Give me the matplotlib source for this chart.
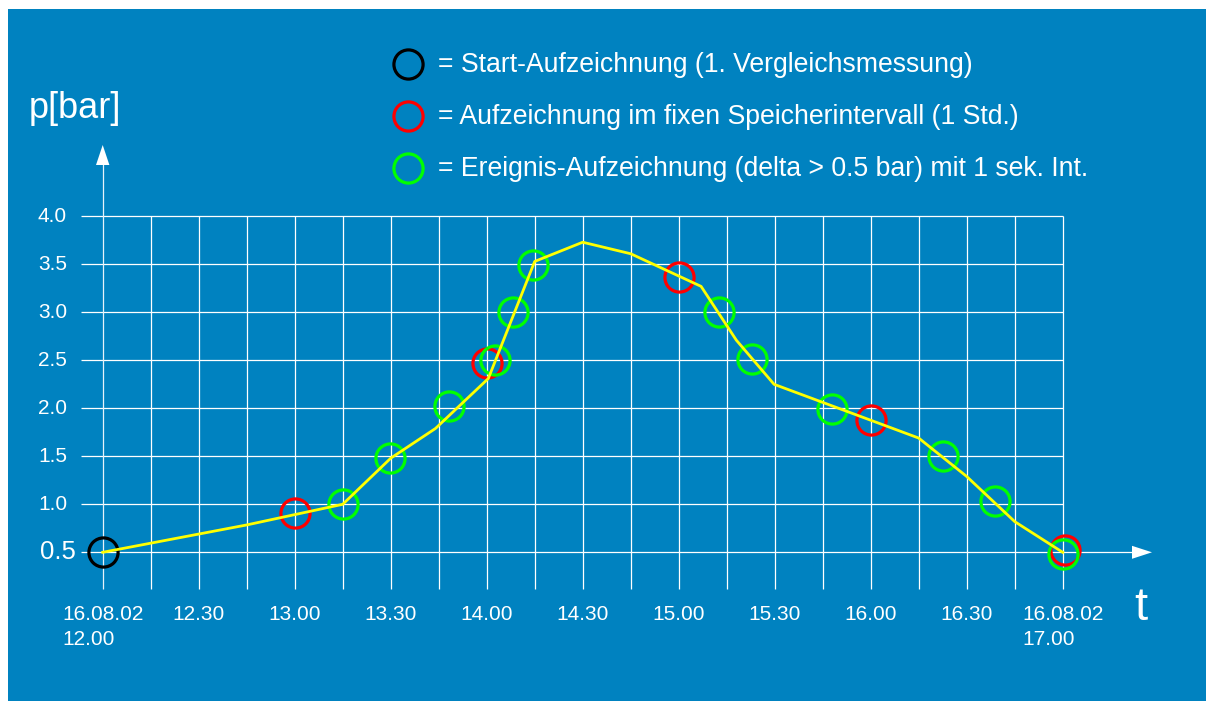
import matplotlib
matplotlib.use("Agg")
import matplotlib.pyplot as plt
from matplotlib.patches import Rectangle, Polygon

# ---------------- data ----------------
line_minutes = [0, 45, 75, 90, 104, 120.5, 135, 150, 165, 187, 198, 209.8, 255, 270, 285, 300]
line_pressure = [0.5, 0.785, 1.0, 1.48, 1.79, 2.31, 3.53, 3.73, 3.61, 3.27, 2.71, 2.25, 1.69, 1.29, 0.82, 0.5]

start_minutes = [0]
start_pressure = [0.5]

interval_minutes = [60, 120, 180, 240, 300.7]
interval_pressure = [0.91, 2.475, 3.37, 1.88, 0.52]

event_minutes = [75, 89.7, 108.3, 122.6, 128.3, 134.5, 192.5, 202.9, 227.9, 262.7, 278.8, 300]
event_pressure = [1.0, 1.48, 2.02, 2.5, 3.0, 3.49, 3.0, 2.51, 1.99, 1.5, 1.03, 0.48]

grid_minutes = list(range(0, 301, 15))
y_tick_values = [0.5, 1.0, 1.5, 2.0, 2.5, 3.0, 3.5, 4.0]
y_tick_labels = ["0.5", "1.0", "1.5", "2.0", "2.5", "3.0", "3.5", "4.0"]
x_tick_minutes = [0, 30, 60, 90, 120, 150, 180, 210, 240, 270, 300]
x_tick_labels = ["16.08.02\n12.00", "12.30", "13.00", "13.30", "14.00", "14.30",
                 "15.00", "15.30", "16.00", "16.30", "16.08.02\n17.00"]

legend_labels = ["= Start-Aufzeichnung (1. Vergleichsmessung)",
                 "= Aufzeichnung im fixen Speicherintervall (1 Std.)",
                 "= Ereignis-Aufzeichnung (delta > 0.5 bar) mit 1 sek. Int."]

# ---------------- style ----------------
BLUE = "#0082C0"
YELLOW = "#FFFF00"
RED = "#FF0000"
GREEN = "#00FF00"
BLACK = "#000000"
legend_colors = [BLACK, RED, GREEN]

W, H = 1206, 701
plt.rcParams["font.family"] = ["Liberation Sans", "DejaVu Sans"]

# pixel -> data helpers (layout only)
X0, PX_MIN = 102.7, 3.2
Y0, PX_BAR = 552.3, 96.0
def t_of(x):
    return (x - X0) / PX_MIN
def p_of(y):
    return 0.5 + (Y0 - y) / PX_BAR

fig = plt.figure(figsize=(W / 100, H / 100), dpi=100)
fig.patch.set_facecolor("white")
bg = Rectangle((8 / W, 0), 1 - 8 / W, 1 - 9 / H, transform=fig.transFigure,
               facecolor=BLUE, edgecolor="none", zorder=-10)
fig.patches.append(bg)

ax = fig.add_axes([0, 0, 1, 1], zorder=1)
ax.set_facecolor("none")
ax.axis("off")
ax.set_xlim(t_of(0), t_of(W))
ax.set_ylim(p_of(H), p_of(0))

grid_kw = dict(color="white", lw=0.9, zorder=1)
p_bottom = p_of(589)
t_left = t_of(81)

# vertical grid lines
ax.vlines(grid_minutes[1:], p_bottom, 4.0, **grid_kw)
# horizontal grid lines
ax.hlines(y_tick_values[1:], t_left, 300, **grid_kw)
# axes with arrows
ax.hlines(0.5, t_left, t_of(1133), **grid_kw)
ax.vlines(0, p_bottom, p_of(164), color="#E6F2FA", lw=0.9, zorder=1)
ax.add_patch(Polygon([(t_of(1132), 0.5 + 6.5 / PX_BAR), (t_of(1152), 0.5), (t_of(1132), 0.5 - 6.5 / PX_BAR)],
                     closed=True, facecolor="white", edgecolor="none", zorder=2))
ax.add_patch(Polygon([(-6.7 / PX_MIN, p_of(165)), (0, p_of(145)), (6.7 / PX_MIN, p_of(165))],
                     closed=True, facecolor="white", edgecolor="none", zorder=2))

# markers
mk = dict(linestyle="none", marker="o", markerfacecolor="none", markersize=21, markeredgewidth=2.3)
ax.plot(start_minutes, start_pressure, markeredgecolor=BLACK, zorder=3, **mk)
ax.plot(interval_minutes, interval_pressure, markeredgecolor=RED, zorder=3, **mk)
ax.plot(event_minutes, event_pressure, markeredgecolor=GREEN, zorder=4, **mk)

# pressure curve
ax.plot(line_minutes, line_pressure, color=YELLOW, lw=2.0, zorder=5)

# y tick labels
for v, lab in zip(y_tick_values, y_tick_labels):
    if v == 0.5:
        ax.text(t_of(76), v, lab, ha="right", va="center", color="white", fontsize=18.5)
    else:
        ax.text(t_of(67), v, lab, ha="right", va="center", color="white", fontsize=15)

# x tick labels
for m, lab in zip(x_tick_minutes, x_tick_labels):
    ax.text(m, p_of(605), lab, ha="center", va="top", multialignment="left",
            color="white", fontsize=15, linespacing=1.4)

# axis titles
fig.text(75 / W, 1 - 109 / H, "p[bar]", ha="center", va="center", color="white", fontsize=26, zorder=5)
fig.text(1141 / W, 1 - 620 / H, "t", ha="center", va="baseline", color="white", fontsize=34, zorder=5)

# legend
leg_y = [64, 116, 168]
for yy, lab, col in zip(leg_y, legend_labels, legend_colors):
    ax.plot([408 / W], [1 - yy / H], transform=ax.transAxes, markeredgecolor=col, zorder=4, **mk)
    fig.text(438 / W, 1 - (yy + 1) / H, lab, ha="left", va="center", color="white",
             fontsize=19.2, zorder=5)

fig.savefig("out.png", dpi=100, facecolor=fig.get_facecolor())
